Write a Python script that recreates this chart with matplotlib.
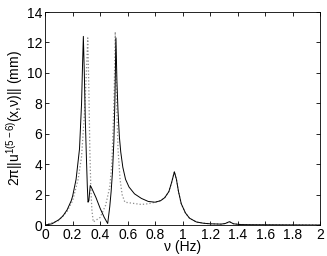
import matplotlib
matplotlib.use("Agg")
import matplotlib.pyplot as plt
import numpy as np

plt.rcParams['font.family'] = ['Liberation Sans', 'DejaVu Sans']
plt.rcParams['mathtext.fontset'] = 'custom'
plt.rcParams['mathtext.rm'] = 'Liberation Sans'
plt.rcParams['mathtext.it'] = 'Liberation Sans'

# curva continua
nu_sol = [0, 0.05, 0.1, 0.13, 0.16, 0.19, 0.2, 0.225, 0.25, 0.265, 0.272, 0.278,
          0.285, 0.292, 0.3, 0.307, 0.312, 0.318, 0.328, 0.34, 0.37, 0.40, 0.43, 0.455,
          0.47, 0.48, 0.49, 0.5, 0.507, 0.515, 0.522, 0.53, 0.54, 0.55, 0.565,
          0.585, 0.61, 0.65, 0.7, 0.75, 0.8, 0.84, 0.87, 0.9, 0.92, 0.94, 0.955,
          0.97, 0.99, 1.02, 1.05, 1.1, 1.15, 1.2, 1.28, 1.31, 1.34, 1.37, 1.42, 1.5, 2.0]
amp_sol = [0, 0.08, 0.35, 0.6, 1.0, 1.6, 1.9, 3.0, 5.0, 8.0, 10.5, 12.4,
           10, 7, 4.5, 2.5, 1.5, 1.6, 2.6, 2.4, 1.8, 1.1, 0.5, 0.1,
           1.2, 2.2, 3.5, 5.5, 8, 12.3, 9.5, 7.5, 5.8, 4.8, 3.8,
           3.0, 2.5, 2.05, 1.75, 1.55, 1.5, 1.6, 1.8, 2.2, 2.8, 3.5, 3.0,
           2.2, 1.4, 0.8, 0.45, 0.2, 0.12, 0.08, 0.06, 0.1, 0.22, 0.08, 0.03, 0.02, 0.0]

# curva punteada
nu_dot = [0, 0.1, 0.16, 0.2, 0.24, 0.265, 0.28, 0.29, 0.3, 0.31, 0.318, 0.325, 0.332,
          0.34, 0.35, 0.4, 0.44, 0.47, 0.485, 0.495, 0.503, 0.51, 0.52, 0.53, 0.545,
          0.56, 0.58, 0.62, 0.66, 0.7, 0.75, 0.8, 0.84, 0.87, 0.9, 0.92, 0.94, 0.955,
          0.97, 0.99, 1.02, 1.05, 1.1, 1.15, 1.2, 1.28, 1.31, 1.34, 1.37, 1.42, 1.5, 2.0]
amp_dot = [0, 0.3, 0.9, 1.6, 3, 4.5, 6.5, 8, 10, 12.3, 9, 5, 2.5,
           1.0, 0.2, 0.5, 1.3, 2.5, 4, 6.5, 9, 12.7, 8, 5, 3,
           2.0, 1.5, 1.45, 1.4, 1.35, 1.4, 1.5, 1.6, 1.8, 2.2, 2.8, 3.5, 3.0,
           2.2, 1.4, 0.8, 0.45, 0.2, 0.12, 0.08, 0.06, 0.1, 0.22, 0.08, 0.03, 0.02, 0.0]

fig = plt.figure(figsize=(3.27, 2.56), dpi=100)
ax = fig.add_axes([0.138, 0.121, 0.841, 0.832])
ax.plot(nu_dot, amp_dot, color='0.55', linestyle=':', linewidth=0.9)
ax.plot(nu_sol, amp_sol, color='black', linewidth=0.7)

ax.set_xlim(0, 2)
ax.set_ylim(0, 14)
ax.set_xticks(np.arange(0, 2.01, 0.2))
ax.set_xticklabels(['0', '0.2', '0.4', '0.6', '0.8', '1', '1.2', '1.4', '1.6', '1.8', '2'])
ax.set_yticks(range(0, 15, 2))
ax.tick_params(direction='in', length=3, width=0.6, labelsize=10, top=True, right=True, pad=2)
for s in ax.spines.values():
    s.set_linewidth(0.6)
ax.set_xlabel('ν (Hz)', fontsize=10, labelpad=-1)
ax.set_ylabel(r'2π||u$^{1(5-6)}$(x,ν)|| (mm)', fontsize=10, labelpad=1)

plt.savefig('out.png', dpi=100)
